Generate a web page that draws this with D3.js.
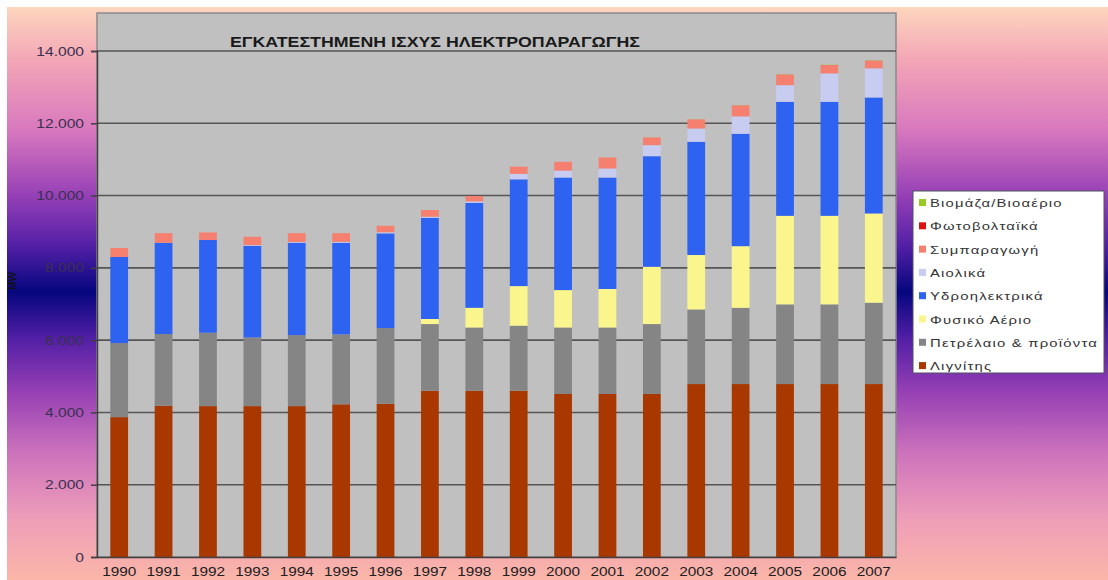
<!DOCTYPE html>
<html>
<head>
<meta charset="utf-8">
<script src="https://cdn.jsdelivr.net/npm/d3@7"></script>
<style>
  html, body { margin: 0; padding: 0; background: #fff; }
  svg { display: block; font-family: "Liberation Sans", Arial, sans-serif; }
</style>
</head>
<body>
<div id="chart"></div>
<script>
// ---- Data (MW) -----------------------------------------------------------
var years = ['1990','1991','1992','1993','1994','1995','1996','1997','1998',
             '1999','2000','2001','2002','2003','2004','2005','2006','2007'];

var lignite = [3870, 4185, 4175, 4175, 4175, 4225, 4240, 4600, 4600,
               4600, 4510, 4510, 4510, 4785, 4785, 4785, 4785, 4785];
var oil     = [2050, 1985, 2030, 1900, 1965, 1935, 2095, 1845, 1750,
               1800, 1840, 1840, 1935, 2065, 2110, 2205, 2205, 2250];
var gas     = [0, 0, 0, 0, 0, 0, 0, 140, 545,
               1095, 1035, 1065, 1585, 1505, 1705, 2450, 2450, 2470];
var hydro   = [2380, 2525, 2565, 2535, 2555, 2535, 2620, 2800, 2905,
               2955, 3115, 3085, 3060, 3135, 3110, 3155, 3155, 3210];
var wind    = [0, 0, 0, 20, 20, 25, 30, 30, 40,
               150, 190, 250, 305, 365, 480, 460, 785, 805];
var chp     = [250, 265, 210, 230, 245, 240, 180, 185, 145,
               200, 245, 305, 215, 255, 305, 295, 230, 210];
var pv      = [0, 0, 0, 0, 0, 0, 0, 0, 0,
               0, 0, 0, 0, 0, 1, 1, 2, 3];
var biomass = [0, 0, 0, 0, 0, 0, 0, 0, 0,
               0, 0, 1, 2, 3, 4, 5, 6, 7];

var seriesNames = ['Λιγνίτης', 'Πετρέλαιο & προϊόντα', 'Φυσικό Αέριο',
                   'Υδροηλεκτρικά', 'Αιολικά', 'Συμπαραγωγή',
                   'Φωτοβολταϊκά', 'Βιομάζα/Βιοαέριο'];
var seriesValues = [lignite, oil, gas, hydro, wind, chp, pv, biomass];
var seriesColors = ['#A83800', '#858585', '#FAF58C', '#2E62F0',
                    '#C8CCF0', '#F58070', '#E01010', '#99CC22'];

var yTicks = [0, 2000, 4000, 6000, 8000, 10000, 12000, 14000];
var chartTitle = 'ΕΓΚΑΤΕΣΤΗΜΕΝΗ ΙΣΧΥΣ ΗΛΕΚΤΡΟΠΑΡΑΓΩΓΗΣ';
var yTitle = 'MW';

// ---- Layout --------------------------------------------------------------
var W = 1108, H = 580;
var plot = { left: 97, right: 896, top: 13, bottom: 557 };

var svg = d3.select('#chart').append('svg')
  .attr('width', W).attr('height', H);

// background gradient (vertical, symmetric around the middle)
var defs = svg.append('defs');
var grad = defs.append('linearGradient')
  .attr('id', 'bg').attr('gradientUnits', 'userSpaceOnUse')
  .attr('x1', 0).attr('y1', 7).attr('x2', 0).attr('y2', H);
[[7, '#FDD6BE'], [60, '#F3A6B6'], [130, '#D878BE'], [195, '#9640B6'],
 [245, '#5420A6'], [292, '#06067E'], [340, '#5420A6'], [392, '#9640B4'],
 [455, '#CE74BC'], [520, '#EE9EB8'], [580, '#FBB6A8']].forEach(function(s) {
  grad.append('stop').attr('offset', (s[0] - 7) / (H - 7)).attr('stop-color', s[1]);
});

svg.append('rect').attr('x', 7).attr('y', 7)
  .attr('width', W - 7).attr('height', H - 7).attr('fill', 'url(#bg)');

// scales
var x = d3.scaleBand().domain(years)
  .range([plot.left, plot.right]).paddingInner(0.6).paddingOuter(0.3);
var y = d3.scaleLinear().domain([0, 14000]).range([plot.bottom, 51]);

// plot area
svg.append('rect')
  .attr('x', plot.left).attr('y', plot.top)
  .attr('width', plot.right - plot.left).attr('height', plot.bottom - plot.top)
  .attr('fill', '#C0C0C0').attr('stroke', '#8A8A8A').attr('stroke-width', 1.5);

// gridlines
svg.append('g').selectAll('line').data(yTicks.slice(1)).join('line')
  .attr('x1', plot.left).attr('x2', plot.right)
  .attr('y1', function(d) { return y(d); }).attr('y2', function(d) { return y(d); })
  .attr('stroke', '#555').attr('stroke-width', 1.6);

// stacked bars
var table = years.map(function(yr, i) {
  var row = { year: yr };
  seriesNames.forEach(function(n, k) { row[n] = seriesValues[k][i]; });
  return row;
});
var stacked = d3.stack().keys(seriesNames)(table);

svg.append('g').selectAll('g').data(stacked).join('g')
  .attr('fill', function(d, i) { return seriesColors[i]; })
  .selectAll('rect').data(function(d) { return d; }).join('rect')
  .attr('x', function(d) { return x(d.data.year); })
  .attr('width', x.bandwidth())
  .attr('y', function(d) { return y(d[1]); })
  .attr('height', function(d) { return Math.max(0, y(d[0]) - y(d[1])); });

// y axis
var yAxis = svg.append('g')
  .attr('transform', 'translate(' + plot.left + ',0)')
  .call(d3.axisLeft(y).tickValues(yTicks).tickSize(6).tickPadding(0)
    .tickFormat(function(d) { return d3.format(',')(d).replace(/,/g, '.'); }));
yAxis.select('.domain').attr('stroke', '#404040').attr('stroke-width', 1.5);
yAxis.selectAll('.tick line').attr('stroke', '#404040').attr('stroke-width', 1.5);
yAxis.selectAll('.tick text')
  .attr('x', null).attr('dy', null)
  .attr('fill', '#3A3050').attr('font-size', 12)
  .attr('text-anchor', 'end')
  .attr('transform', 'translate(-13,4) scale(1.3,1)');

// x axis
var xAxis = svg.append('g')
  .attr('transform', 'translate(0,' + plot.bottom + ')')
  .call(d3.axisBottom(x).tickSize(0).tickPadding(0));
xAxis.select('.domain').attr('stroke', '#404040').attr('stroke-width', 1.5);
xAxis.selectAll('.tick text')
  .attr('y', null).attr('dy', null)
  .attr('fill', '#202020').attr('font-size', 12)
  .attr('transform', 'translate(0,19) scale(1.28,1)');

// y title
svg.append('text')
  .attr('transform', 'translate(16,281) rotate(-90)')
  .attr('text-anchor', 'middle')
  .attr('font-size', 10).attr('font-weight', 'bold').attr('fill', '#101020')
  .text(yTitle);

// title
svg.append('text')
  .attr('x', 230).attr('y', 47)
  .attr('font-size', 15).attr('font-weight', 'bold').attr('fill', '#1A1A1A')
  .attr('textLength', 410).attr('lengthAdjust', 'spacingAndGlyphs')
  .text(chartTitle);

// legend (top entry = last series)
var legend = svg.append('g');
legend.append('rect')
  .attr('x', 913).attr('y', 191).attr('width', 191).attr('height', 182)
  .attr('fill', '#FFFFFF').attr('stroke', '#505060').attr('stroke-width', 1);

var legendItems = seriesNames.map(function(n, i) {
  return { name: n, color: seriesColors[i] };
}).reverse();

var li = legend.selectAll('g.item').data(legendItems).join('g')
  .attr('class', 'item')
  .attr('transform', function(d, i) { return 'translate(919,' + (203 + i * 23.3) + ')'; });
li.append('rect')
  .attr('x', 0).attr('y', -4).attr('width', 7).attr('height', 7)
  .attr('fill', function(d) { return d.color; });
li.append('text')
  .attr('transform', 'translate(11,4) scale(1.35,1)')
  .attr('font-size', 11).attr('letter-spacing', 0.9).attr('fill', '#333')
  .text(function(d) { return d.name; });
</script>
</body>
</html>
